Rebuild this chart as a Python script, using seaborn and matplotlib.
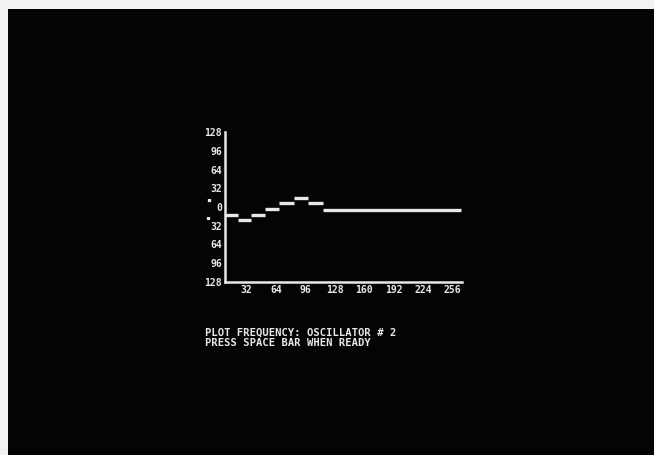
import matplotlib
matplotlib.use("Agg")
import matplotlib.pyplot as plt
import seaborn as sns
import pandas as pd

# step segments (frequency index vs level)
seg_start = [8, 22, 37, 52, 67, 83, 99, 115]
seg_end = [22, 37, 52, 67, 83, 99, 115, 266]
levels = [-13, -23, -13, -4, 6, 15, 6, -5]

x_ticks = [32, 64, 96, 128, 160, 192, 224, 256]
y_ticks = [128, 96, 64, 32, 0, -32, -64, -96, -128]
y_labels = ["128", "96", "64", "32", "0", "32", "64", "96", "128"]

caption = ["PLOT FREQUENCY: OSCILLATOR # 2", "PRESS SPACE BAR WHEN READY"]

sns.set_theme(style="dark")
plt.rcParams["font.family"] = ["DejaVu Sans Mono"]

fg = "#e8e8e8"

fig = plt.figure(figsize=(6.54, 4.55), dpi=100)
fig.patch.set_facecolor("#f2f2f2")

# black CRT screen
bg = fig.add_axes([8 / 654, 0, 1 - 8 / 654, 1 - 9 / 455])
bg.set_facecolor("#040404")
bg.set_xticks([])
bg.set_yticks([])
for s in bg.spines.values():
    s.set_visible(False)

ax = fig.add_axes([225 / 654, 1 - 282 / 455, (462 - 225) / 654, (282 - 132) / 455])
ax.set_facecolor("none")

# build step line from the segments
xs, ys = [], []
for a, b, v in zip(seg_start, seg_end, levels):
    xs += [a, b]
    ys += [v, v]
df = pd.DataFrame({"x": xs, "y": ys})
# draw each horizontal piece separately (screen shows no risers)
for i in range(len(levels)):
    sub = df.iloc[2 * i:2 * i + 2]
    sns.lineplot(data=sub, x="x", y="y", ax=ax, color=fg, linewidth=2.4,
                 estimator=None, sort=False, solid_capstyle="butt")

ax.set_xlim(8.3, 266.6)
ax.set_ylim(-128, 128)
ax.set_xticks(x_ticks)
ax.set_xticklabels([str(t) for t in x_ticks])
ax.set_yticks(y_ticks)
ax.set_yticklabels(y_labels)
ax.set_xlabel("")
ax.set_ylabel("")
ax.tick_params(axis="both", length=0, colors=fg, labelsize=7)
ax.tick_params(axis="x", pad=2)
ax.tick_params(axis="y", pad=2)
for lab in ax.get_xticklabels() + ax.get_yticklabels():
    lab.set_fontweight("bold")
ax.grid(False)
for side in ["top", "right"]:
    ax.spines[side].set_visible(False)
for side in ["left", "bottom"]:
    ax.spines[side].set_visible(True)
    ax.spines[side].set_color(fg)
    ax.spines[side].set_linewidth(1.8)

# sign dots beside the y labels
fig.text(209 / 654, 1 - 200 / 455, "\u25aa", color=fg, fontsize=6, ha="center", va="center")
fig.text(208 / 654, 1 - 218 / 455, "\u25aa", color=fg, fontsize=6, ha="center", va="center")

fig.text(205 / 654, 1 - 333 / 455, caption[0], color=fg, fontsize=7.6,
         fontweight="bold", ha="left", va="center")
fig.text(205 / 654, 1 - 343 / 455, caption[1], color=fg, fontsize=7.6,
         fontweight="bold", ha="left", va="center")

fig.savefig("out.png", dpi=100, facecolor=fig.get_facecolor())
